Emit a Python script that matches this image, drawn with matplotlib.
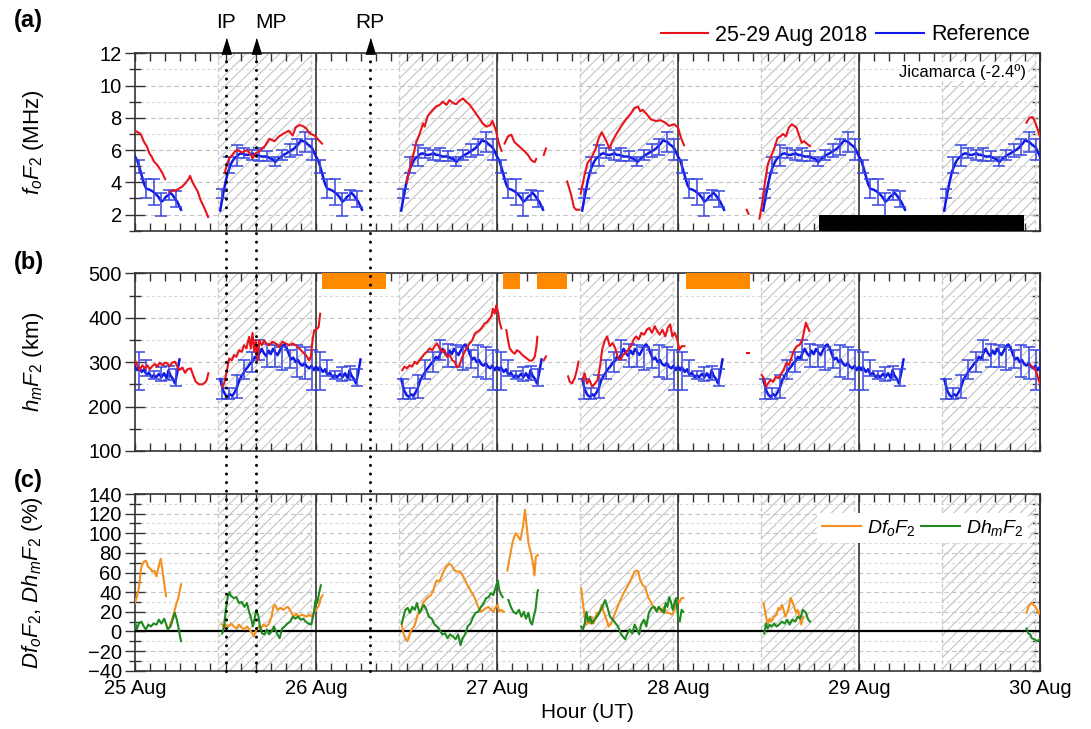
import numpy as np
import matplotlib
matplotlib.use('Agg')
import matplotlib.pyplot as plt
from matplotlib.lines import Line2D
from matplotlib.patches import Rectangle
from matplotlib.transforms import blended_transform_factory
from matplotlib.ticker import MultipleLocator, FixedLocator, FixedFormatter

plt.rcParams['font.family'] = ['Liberation Sans', 'DejaVu Sans']
plt.rcParams['mathtext.fontset'] = 'custom'
plt.rcParams['mathtext.rm'] = 'Liberation Sans'
plt.rcParams['mathtext.it'] = 'Liberation Sans:italic'
plt.rcParams['mathtext.bf'] = 'Liberation Sans:bold'
plt.rcParams['hatch.linewidth'] = 0.7

# ---------------- data ----------------
day_labels = ['25 Aug', '26 Aug', '27 Aug', '28 Aug', '29 Aug', '30 Aug']
event_names = ['IP', 'MP', 'RP']
event_hours = [12.0, 16.0, 31.1]          # hours since 25 Aug 00 UT
event_label_align = ['center', 'left', 'center']

# quiet-day reference (same profile every day), hours UT
ref_night_h = [0.0, 0.3, 0.6, 0.9, 1.2, 1.5, 1.9, 2.3, 2.7, 3.1, 3.5, 3.8, 4.1, 4.4, 4.7, 5.0, 5.3, 5.6, 5.9, 6.1]
ref_night_fof2 = [5.6, 5.35, 4.9, 4.4, 3.9, 3.6, 3.55, 3.45, 3.3, 3.1, 2.8, 2.9, 3.1, 3.2, 3.35, 3.2, 3.0, 2.8, 2.5, 2.3]
ref_night_hmf2_h = [0.0, 0.3, 0.5, 0.9, 1.2, 1.5, 1.85, 2.2, 2.5, 2.8, 3.2, 3.5, 3.85, 4.2, 4.45, 4.7, 5.0, 5.3, 5.6, 5.9]
ref_night_hmf2 = [290, 282, 289, 278, 284, 272, 276, 266, 271, 266, 274, 266, 275, 264, 282, 270, 263, 252, 276, 306]

ref_day_h = [11.3, 11.5, 11.7, 12.0, 12.3, 12.6, 12.9, 13.2, 13.5, 13.8, 14.1, 14.4, 14.7, 15.0, 15.3, 15.6, 15.9,
             16.2, 16.5, 16.8, 17.1, 17.5, 17.8, 18.2, 18.6, 19.0, 19.4, 19.7, 20.1, 20.4, 20.8, 21.1, 21.4, 21.7,
             22.0, 22.3, 22.6, 22.9, 23.2, 23.5, 23.8]
ref_day_fof2 = [2.25, 2.8, 3.3, 4.0, 4.6, 5.0, 5.3, 5.5, 5.6, 5.75, 5.8, 5.75, 5.7, 5.7, 5.75, 5.8, 5.7,
                5.7, 5.65, 5.6, 5.6, 5.6, 5.5, 5.45, 5.25, 5.45, 5.6, 5.7, 5.8, 5.9, 6.0, 6.1, 6.25, 6.4,
                6.6, 6.55, 6.5, 6.35, 6.25, 6.1, 5.8]
ref_day_hmf2_h = [11.3, 11.5, 11.7, 12.0, 12.3, 12.6, 12.9, 13.2, 13.5, 13.8, 14.1, 14.4, 14.7, 15.0, 15.3, 15.6,
                  15.9, 16.2, 16.5, 16.8, 17.1, 17.4, 17.7, 18.0, 18.3, 18.6, 18.9, 19.2, 19.5, 19.8, 20.1, 20.4,
                  20.7, 21.0, 21.3, 21.6, 21.9, 22.2, 22.5, 22.8, 23.1, 23.4, 23.7]
ref_day_hmf2 = [262, 248, 236, 226, 222, 228, 224, 232, 242, 258, 268, 276, 284, 290, 298, 302,
                312, 308, 320, 330, 320, 314, 326, 318, 330, 322, 316, 326, 336, 340, 332, 318,
                306, 310, 300, 305, 296, 292, 298, 290, 286, 292, 282]

eb_h = [0.5, 1.5, 2.5, 3.5, 4.5, 5.5, 11.5, 12.5, 13.5, 14.5, 15.5, 16.5, 17.5, 18.5, 19.5, 20.5, 21.5, 22.5, 23.5]
eb_fof2_lo = [4.6, 3.0, 2.6, 1.9, 2.9, 2.5, 3.0, 4.6, 5.0, 5.5, 5.4, 5.3, 5.3, 5.0, 5.4, 5.6, 5.7, 5.9, 5.4]
eb_fof2_hi = [5.4, 4.2, 4.2, 3.35, 3.55, 3.45, 3.6, 5.6, 6.3, 6.1, 6.0, 6.15, 5.95, 5.6, 6.0, 6.4, 6.7, 7.1, 6.7]
eb_hmf2_lo = [237, 268, 262, 258, 260, 246, 218, 216, 220, 262, 278, 305, 290, 290, 282, 286, 267, 263, 237]
eb_hmf2_hi = [323, 304, 280, 290, 292, 285, 262, 242, 272, 305, 323, 350, 340, 338, 334, 327, 338, 334, 327]

# 25-29 Aug 2018 foF2 (MHz); hours since 25 Aug 00 UT, one tuple per continuous piece
storm_fof2 = [
    ([0, 0.4, 0.75, 1.2, 1.6, 1.9, 2.2, 2.5, 2.9, 3.2, 3.6, 4.0],
     [7.2, 7.1, 7.0, 6.5, 6.2, 5.8, 5.6, 5.3, 5.1, 4.9, 4.6, 4.2]),
    ([4.6, 5.0, 5.4, 5.8, 6.3, 6.7, 7.1, 7.3, 7.5, 7.8, 8.3, 8.7, 9.2, 9.7],
     [3.4, 3.5, 3.5, 3.6, 3.75, 3.95, 4.2, 4.4, 4.15, 3.85, 3.45, 2.9, 2.4, 1.85]),
    ([11.9, 12.2, 12.5, 12.9, 13.3, 13.6, 14.2, 14.9, 15.3, 15.6, 16.0, 16.7, 17.3, 17.8, 18.5, 19.1, 19.8,
      20.4, 20.9, 21.3, 21.8, 22.2, 22.7, 23.1, 23.8, 24.4, 24.8],
     [4.6, 5.1, 5.5, 5.7, 5.95, 6.0, 5.85, 6.0, 5.75, 5.5, 5.8, 6.0, 6.3, 6.7, 6.55, 6.85, 7.05,
      7.2, 6.9, 7.4, 7.55, 7.5, 7.35, 7.05, 6.9, 6.6, 6.4]),
    ([36.0, 36.4, 36.85, 37.3, 37.7, 38.2, 38.4, 38.8, 39.3, 39.9, 40.4, 40.8, 41.3, 41.7, 42.2, 42.6, 43.0,
      43.5, 43.9, 44.4, 45.0, 45.6, 46.1, 46.6, 47.1, 47.4, 47.6, 47.9, 48.1, 48.4, 48.6],
     [4.0, 4.8, 5.6, 6.5, 6.95, 7.65, 7.45, 8.1, 8.4, 8.7, 8.8, 9.0, 8.8, 9.1, 8.9, 8.85, 9.05,
      9.2, 9.0, 8.8, 8.4, 8.0, 7.65, 7.45, 7.55, 7.8, 7.55, 7.15, 6.65, 6.2, 5.95]),
    ([49.0, 49.46, 49.9, 50.3, 51.0, 51.7, 52.1, 52.6, 53.0, 53.2],
     [6.4, 6.85, 6.95, 6.5, 6.2, 5.9, 5.7, 5.35, 5.25, 5.45]),
    ([54.2, 54.5], [5.7, 6.1]),
    ([57.3, 57.6, 57.9, 58.2, 58.5, 58.9], [4.05, 3.6, 3.1, 2.45, 2.3, 2.3]),
    ([59.1, 59.6, 60.0, 60.5, 61.1, 61.5, 61.9, 62.5, 62.9, 63.3, 63.9, 64.5, 65.1, 65.8, 66.2, 66.7, 67.0,
      67.3, 67.9, 68.4, 69.1, 69.7, 70.3, 70.8, 71.5, 72.0, 72.4, 72.8],
     [3.3, 4.45, 5.2, 5.5, 6.1, 6.75, 7.1, 6.55, 6.1, 6.55, 7.05, 7.5, 7.9, 8.3, 8.6, 8.7, 8.4,
      8.5, 8.2, 7.9, 7.8, 7.85, 7.7, 7.5, 7.6, 7.4, 6.75, 6.3]),
    ([81.1, 81.35], [2.3, 2.05]),
    ([82.8, 83.2, 83.5, 83.9, 84.3, 84.7, 85.2, 85.6, 85.9, 86.3, 86.7, 87.1, 87.4, 87.7, 88.0, 88.4, 88.7,
      89.2, 89.5],
     [1.75, 2.8, 3.9, 5.1, 5.6, 6.0, 6.75, 6.85, 7.0, 6.85, 7.4, 7.6, 7.5, 7.4, 7.0, 6.45, 6.55, 6.35, 6.25]),
    ([118.2, 118.6, 119.0, 119.3, 119.6, 120.0], [7.7, 8.0, 8.05, 7.8, 7.4, 6.85]),
]

# 25-29 Aug 2018 hmF2 (km)
storm_hmf2 = [
    ([0, 0.31, 0.62, 0.97, 1.33, 1.64, 1.95, 2.3, 2.65, 2.96, 3.27, 3.63, 3.98, 4.29, 4.6, 4.96, 5.31, 5.84,
      6.28, 6.64, 6.95, 7.39, 7.7, 8.05, 8.5, 8.94, 9.29, 9.51, 9.73],
     [304, 293, 282, 293, 286, 293, 284, 291, 296, 290, 299, 293, 299, 297, 291, 299, 301, 282,
      288, 276, 284, 286, 271, 256, 250, 250, 254, 260, 275]),
    ([11.59, 11.81, 12.12, 12.48, 12.83, 13.14, 13.45, 13.81, 14.16, 14.47, 14.78, 15.13, 15.35, 15.58, 15.8,
      16.02, 16.24, 16.46, 16.81, 17.12, 17.43, 17.79, 18.23, 18.67, 19.12, 19.56, 20.0, 20.44, 20.88, 21.33,
      21.77, 22.21, 22.65, 23.1, 23.32, 23.54, 23.76, 23.98, 24.34, 24.56],
     [245, 252, 275, 308, 304, 316, 312, 327, 323, 338, 331, 357, 331, 366, 323,
      349, 304, 349, 338, 349, 342, 338, 346, 342, 334, 346, 342, 338, 342, 338,
      331, 323, 316, 304, 312, 349, 372, 372, 379, 409]),
    ([35.43, 35.74, 36.05, 36.41, 36.76, 37.07, 37.38, 37.73, 38.09, 38.4, 38.71, 39.06, 39.42, 39.73, 40.04,
      40.39, 40.74, 41.05, 41.36, 41.72, 42.07, 42.38, 42.69, 43.04, 43.4, 43.71, 44.02, 44.37, 44.73, 45.04,
      45.35, 45.7, 46.05, 46.36, 46.67, 47.03, 47.25, 47.47, 47.69, 47.91, 48.13, 48.35, 48.58],
     [282, 290, 286, 293, 290, 301, 296, 304, 312, 319, 323, 331, 327, 336, 342,
      331, 323, 327, 312, 316, 304, 301, 288, 293, 312, 323, 334, 342, 349, 364,
      368, 372, 379, 387, 390, 398, 403, 420, 409, 428, 413, 390, 376]),
    ([49.24, 49.46, 49.68, 50.04, 50.35, 50.65, 51.01, 51.36, 51.67, 51.98, 52.34, 52.69, 53.0, 53.22, 53.35],
     [372, 349, 331, 323, 319, 327, 323, 316, 312, 308, 303, 304, 312, 334, 357]),
    ([54.2, 54.5], [304, 313]),
    ([57.43, 57.64, 57.95, 58.3, 58.6, 58.8], [268, 256, 252, 264, 283, 301]),
    ([59.33, 59.61, 59.94, 60.26, 60.63, 61.01, 61.33, 61.66, 61.94, 62.26, 62.59, 62.96, 63.33, 63.66, 63.98,
      64.36, 64.73, 65.05, 65.38, 65.75, 66.13, 66.45, 66.78, 67.15, 67.52, 67.85, 68.17, 68.55, 68.92, 69.24,
      69.57, 69.94, 70.31, 70.64, 70.97, 71.25, 71.57, 71.9, 72.18, 72.51, 72.84],
     [260, 275, 252, 260, 245, 252, 260, 290, 328, 347, 358, 336, 343, 332, 313,
      305, 317, 320, 328, 336, 351, 358, 351, 366, 362, 373, 377, 366, 381, 370,
      362, 373, 358, 377, 385, 358, 366, 351, 328, 336, 336]),
    ([81.1, 81.35], [320, 320]),
    ([83.09, 83.37, 83.69, 83.93, 84.3, 84.63, 84.95, 85.33, 85.7, 86.02, 86.35, 86.72, 87.1, 87.42, 87.75,
      88.12, 88.49, 88.72, 88.96, 89.14, 89.42],
     [271, 264, 245, 252, 260, 256, 267, 264, 275, 283, 298, 294, 313, 328, 336,
      339, 351, 370, 389, 381, 370]),
    ([118.7, 119.2, 119.5, 119.8, 120.0], [294, 286, 279, 260, 252]),
]

# deviations (%) : Df_oF_2 and Dh_mF_2
dfof2 = [
    ([0, 0.23, 0.51, 0.84, 1.17, 1.45, 1.73, 2.01, 2.29, 2.57, 2.85, 3.13, 3.41, 3.64, 3.87, 4.11],
     [29, 35, 44, 66, 71, 72, 66, 64, 61, 62, 56, 66, 74, 62, 49, 36]),
    ([4.57, 4.9, 5.27, 5.51, 5.74, 6.11], [5, 12, 22, 29, 34, 48]),
    ([11.57, 11.81, 12.04, 12.37, 12.74, 13.11, 13.44, 13.77, 14.14, 14.51, 14.84, 15.16, 15.54, 15.77, 16.0,
      16.38, 16.7, 17.03, 17.41, 17.78, 18.11, 18.34, 18.57, 18.9, 19.27, 19.65, 19.97, 20.3, 20.67, 21.05,
      21.37, 21.7, 22.07, 22.45, 22.77, 23.1, 23.38, 23.71, 24.03, 24.41, 24.64, 24.87],
     [7, 3, 7, 5, 8, 5, 3, 7, 4, 2, 5, 2, -2, -5, 0,
      5, 3, 7, 5, 8, 15, 25, 27, 22, 24, 22, 24, 25, 20, 15,
      18, 15, 17, 16, 15, 17, 15, 19, 22, 27, 34, 37]),
    ([35.37, 35.6, 35.84, 36.07, 36.3, 36.54, 36.77, 37.0, 37.24, 37.47, 37.84, 38.17, 38.5, 38.87, 39.24,
      39.57, 39.81, 40.04, 40.37, 40.65, 40.98, 41.3, 41.68, 42.0, 42.38, 42.7, 43.08, 43.45, 43.77, 44.1,
      44.47, 44.85, 45.17, 45.5, 45.87, 46.24, 46.57, 46.9, 47.18, 47.5, 47.83, 48.11, 48.3, 48.58, 48.9],
     [7, -2, -7, -10, -7, 0, 3, 5, 10, 17, 20, 29, 32, 35, 37,
      42, 49, 52, 51, 56, 62, 66, 69, 67, 62, 61, 61, 57, 52, 47,
      42, 37, 32, 25, 20, 22, 24, 25, 22, 20, 25, 27, 20, 22, 20]),
    ([49.37, 49.7, 50.07, 50.45, 50.77, 51.1, 51.47, 51.71, 51.94, 52.17, 52.5, 52.78, 52.96, 53.15, 53.43],
     [62, 76, 91, 100, 97, 93, 108, 124, 107, 90, 80, 69, 57, 76, 78]),
    ([59.16, 59.39, 59.63, 59.86, 60.09, 60.33, 60.56, 60.79, 61.03, 61.26, 61.59, 61.87, 62.19, 62.52, 62.8,
      63.13, 63.46, 63.83, 64.2, 64.53, 64.86, 65.23, 65.6, 65.93, 66.26, 66.54, 66.72, 67.0, 67.33, 67.66,
      68.03, 68.41, 68.73, 69.06, 69.43, 69.81, 70.13, 70.46, 70.83, 71.21, 71.53, 71.86, 72.14, 72.47, 72.7],
     [44, 29, 15, 7, 10, 8, 15, 8, 13, 19, 20, 27, 19, 12, 5,
      8, 15, 22, 29, 35, 40, 45, 50, 56, 61, 62, 61, 52, 47, 45,
      35, 30, 25, 22, 24, 20, 25, 19, 19, 17, 22, 32, 29, 34, 34]),
    ([83.34, 83.67, 83.9, 84.14, 84.37, 84.75, 85.07, 85.31, 85.54, 85.77, 86.01, 86.24, 86.47, 86.71, 86.94,
      87.17, 87.41, 87.64, 87.87, 88.11, 88.34, 88.57],
     [29, 15, 8, 13, 10, 15, 17, 24, 22, 27, 22, 15, 19, 25, 34, 30, 25, 19, 22, 15, 7, 15]),
    ([118.22, 118.45, 118.83, 119.15, 119.48, 119.86, 120.09], [19, 25, 29, 27, 24, 18, 22]),
]
dhmf2 = [
    ([0, 0.23, 0.51, 0.84, 1.17, 1.45, 1.77, 2.1, 2.47, 2.85, 3.17, 3.5, 3.87, 4.11, 4.34, 4.71, 5.04, 5.27,
      5.51, 5.74, 5.97, 6.11],
     [10, 2, 8, 10, 5, 2, 7, 5, 8, 7, 12, 8, 13, 8, 2, 5, 13, 19, 13, 5, -5, -10]),
    ([11.57, 11.81, 12.04, 12.27, 12.51, 12.74, 13.11, 13.44, 13.77, 14.14, 14.51, 14.84, 15.16, 15.44, 15.63,
      15.91, 16.1, 16.38, 16.57, 16.85, 17.17, 17.5, 17.78, 18.11, 18.43, 18.81, 19.18, 19.51, 19.83, 20.21,
      20.58, 20.91, 21.23, 21.61, 21.98, 22.31, 22.63, 23.01, 23.38, 23.71, 23.94, 24.17, 24.41, 24.64],
     [-2, 5, 22, 34, 40, 36, 34, 35, 29, 30, 25, 29, 19, 12, 5,
      15, 22, 15, 5, -2, -3, 2, -3, 0, 5, -2, -7, 3, 5, 8,
      10, 15, 13, 15, 12, 13, 10, 8, 7, 19, 32, 29, 39, 47]),
    ([35.37, 35.6, 35.84, 36.16, 36.45, 36.77, 37.1, 37.38, 37.71, 37.94, 38.31, 38.64, 38.97, 39.35, 39.72,
      40.04, 40.37, 40.74, 41.12, 41.44, 41.77, 42.14, 42.52, 42.84, 43.17, 43.45, 43.77, 44.1, 44.47, 44.85,
      45.17, 45.5, 45.87, 46.24, 46.57, 46.9, 47.18, 47.5, 47.83, 48.11, 48.3, 48.58, 48.76],
     [8, 15, 22, 24, 19, 25, 22, 29, 19, 22, 27, 22, 15, 13, 7,
      5, 2, -3, -2, -7, -3, -5, -8, -3, -14, -7, -3, 5, 8, 15,
      19, 20, 25, 29, 34, 35, 39, 37, 45, 52, 42, 37, 35]),
    ([49.51, 49.84, 50.16, 50.54, 50.91, 51.24, 51.56, 51.84, 52.17, 52.4, 52.64, 52.87, 53.1, 53.34, 53.43],
     [32, 25, 20, 18, 22, 15, 20, 13, 19, 10, 7, 15, 22, 39, 42]),
    ([59.16, 59.39, 59.63, 59.86, 60.09, 60.33, 60.56, 60.93, 61.26, 61.59, 61.96, 62.34, 62.66, 62.99, 63.36,
      63.74, 64.06, 64.39, 64.67, 64.99, 65.23, 65.6, 65.93, 66.26, 66.54, 66.86, 67.1, 67.47, 67.8, 68.13,
      68.5, 68.87, 69.2, 69.43, 69.81, 70.13, 70.37, 70.6, 70.83, 71.07, 71.3, 71.53, 71.77, 72.0, 72.23,
      72.47, 72.7],
     [5, 2, 8, 20, 10, 15, 8, 12, 15, 19, 25, 32, 24, 15, 12,
      8, 5, -2, -5, -8, -3, 2, -2, 7, 2, -3, 7, 12, 5, 19,
      24, 25, 20, 25, 22, 19, 29, 25, 35, 30, 22, 29, 34, 15, 10,
      22, 20]),
    ([83.44, 83.67, 83.9, 84.14, 84.37, 84.75, 85.07, 85.4, 85.77, 86.15, 86.47, 86.8, 87.17, 87.55, 87.87,
      88.2, 88.57, 88.95, 89.27, 89.51],
     [-2, 8, 3, 7, 5, 8, 5, 7, 10, 8, 12, 7, 12, 10, 15, 13, 22, 19, 12, 10]),
    ([118.22, 118.45, 118.69, 118.92, 119.29, 119.62, 119.95], [3, -2, -3, -7, -8, -10, -8]),
]

# orange markers on top of panel (b) [start h, end h], black bar in panel (a)
orange_bars = [(24.75, 33.3), (48.8, 51.1), (53.3, 57.25), (73.0, 81.5)]
black_bar = (90.7, 117.9)
daylight_h = (11.0, 23.3)

# ---------------- styling ----------------
RED = '#e8141c'
BLUE = '#1018e6'
EBLUE = '#3846e0'
ORANGE = '#f39020'
GREEN = '#1f8a1f'
HATCH = '#bdbdbd'
n_days = 5

fig = plt.figure(figsize=(10.91, 7.29), dpi=100)
FW, FH = 1091.0, 729.0
L, R = 135.0, 1040.0
def fy(px):
    return 1 - px / FH
boxes = {'a': (53.3, 230.7), 'b': (273.3, 451.0), 'c': (494.0, 670.7)}
axes = {}
for k, (t, b) in boxes.items():
    axes[k] = fig.add_axes([L / FW, fy(b), (R - L) / FW, (b - t) / FH])
ax_a, ax_b, ax_c = axes['a'], axes['b'], axes['c']


def style(ax, ylim, major, minor, xlabels=False):
    ax.set_xlim(0, n_days)
    ax.set_ylim(*ylim)
    ax.xaxis.set_major_locator(FixedLocator(range(n_days + 1)))
    ax.xaxis.set_major_formatter(FixedFormatter(day_labels))
    ax.xaxis.set_minor_locator(MultipleLocator(2 / 24))
    ax.yaxis.set_major_locator(MultipleLocator(major))
    ax.yaxis.set_minor_locator(MultipleLocator(minor))
    ax.tick_params(axis='x', which='both', direction='in', top=True, bottom=True,
                   length=6, width=1, color='#333333', labelsize=14.5, pad=6,
                   labelbottom=xlabels)
    ax.tick_params(axis='y', which='major', direction='inout', left=True, right=False,
                   length=15, width=1, color='#333333', labelsize=14.5, pad=2)
    ax.tick_params(axis='y', which='minor', direction='inout', left=True, right=False,
                   length=9, width=1, color='#333333')
    sec = ax.secondary_yaxis('right')
    sec.yaxis.set_major_locator(MultipleLocator(major))
    sec.yaxis.set_minor_locator(MultipleLocator(minor))
    sec.tick_params(which='both', direction='in', length=6, width=1, color='#333333',
                    labelright=False)
    sec.spines['right'].set_linewidth(1.2)
    sec.spines['right'].set_color('#333333')
    for s in ax.spines.values():
        s.set_linewidth(1.2)
        s.set_color('#333333')
    ax.set_axisbelow(True)
    ax.yaxis.grid(True, which='major', linestyle=(0, (4, 3)), color='#c4c4c4', lw=0.8)
    ax.yaxis.grid(True, which='minor', linestyle=(0, (2.5, 2.5)), color='#d6d6d6', lw=0.8)
    for d in range(n_days):
        x0, x1 = d + daylight_h[0] / 24, d + daylight_h[1] / 24
        ax.axvspan(x0, x1, facecolor='none', edgecolor=HATCH, hatch='///', lw=0, zorder=0.5)
        for xx in (x0, x1):
            ax.axvline(xx, color='#cccccc', lw=1.0, ls=(0, (3, 2)), zorder=0.6)
    for d in range(1, n_days):
        ax.axvline(d, color='#333333', lw=1.2, zorder=2)


style(ax_a, (1, 12), 2, 1)
style(ax_b, (100, 500), 100, 50)
style(ax_c, (-40, 140), 20, 10, xlabels=True)


def plot_reference(ax, nh, nv, dh, dv, lo, hi):
    nh, nv, dh, dv = map(np.asarray, (nh, nv, dh, dv))
    ax.plot(nh / 24, nv, color=BLUE, lw=1.8, zorder=4)
    for d in range(n_days):
        x = np.concatenate([d + dh / 24, d + 1 + nh / 24])
        y = np.concatenate([dv, nv])
        ax.plot(x, y, color=BLUE, lw=1.8, zorder=4)
    lo, hi = np.asarray(lo), np.asarray(hi)
    mid = (lo + hi) / 2
    for d in range(n_days):
        ax.errorbar(d + np.asarray(eb_h) / 24, mid, yerr=[mid - lo, hi - mid], fmt='none',
                    ecolor=EBLUE, elinewidth=1.1, capsize=4, capthick=1.1, zorder=4)


def plot_segments(ax, segs, color, lw=1.5, z=5):
    for h, v in segs:
        ax.plot(np.asarray(h) / 24, v, color=color, lw=lw, zorder=z)


plot_segments(ax_a, storm_fof2, RED)
plot_reference(ax_a, ref_night_h, ref_night_fof2, ref_day_h, ref_day_fof2, eb_fof2_lo, eb_fof2_hi)
plot_segments(ax_b, storm_hmf2, RED)
plot_reference(ax_b, ref_night_hmf2_h, ref_night_hmf2, ref_day_hmf2_h, ref_day_hmf2, eb_hmf2_lo, eb_hmf2_hi)

ax_a.add_patch(Rectangle((black_bar[0] / 24, 1), (black_bar[1] - black_bar[0]) / 24, 0.95,
                         facecolor='black', edgecolor='none', zorder=6))
for h0, h1 in orange_bars:
    ax_b.add_patch(Rectangle((h0 / 24, 465), (h1 - h0) / 24, 35, facecolor='#ff8a00',
                             edgecolor='none', zorder=6))

ax_c.axhline(0, color='black', lw=1.6, zorder=3)
plot_segments(ax_c, dfof2, ORANGE)
plot_segments(ax_c, dhmf2, GREEN)

# event dotted lines, triangles and labels
bt = blended_transform_factory(ax_a.transData, fig.transFigure)
tri = [(-0.62, -1), (0.62, -1), (0, 1)]
for name, h, ha in zip(event_names, event_hours, event_label_align):
    x = h / 24
    fig.add_artist(Line2D([x, x], [fy(670.7), fy(58)], transform=bt, color='black', lw=2.2,
                          ls=(0, (0.01, 2.8)), dash_capstyle='round', zorder=8))
    fig.add_artist(Line2D([x], [fy(45.5)], transform=bt, marker=tri, markersize=11,
                          color='black', lw=0))
    fig.text(x, fy(22), name, transform=bt, ha=ha, va='center', fontsize=15)

# labels
ax_a.text(0.985, 0.896, 'Jicamarca (-2.4º)', transform=ax_a.transAxes, ha='right', va='center',
          fontsize=12, bbox=dict(facecolor='white', edgecolor='none', pad=1), zorder=7)
for k, ypx in zip(['a', 'b', 'c'], [20, 262, 480]):
    fig.text(14 / FW, fy(ypx), f'({k})', ha='left', va='center', fontsize=17, fontweight='bold')

ylabels = {'a': r'$f_oF_2$ (MHz)', 'b': r'$h_mF_2$ (km)', 'c': r'$Df_oF_2$, $Dh_mF_2$ (%)'}
for k, lab in ylabels.items():
    t, b = boxes[k]
    fig.text(33 / FW, fy((t + b) / 2), lab, rotation=90, ha='center', va='center', fontsize=16)

fig.text(587 / FW, fy(712), 'Hour (UT)', ha='center', va='center', fontsize=15)

fig.legend(handles=[Line2D([], [], color=RED, lw=1.5), Line2D([], [], color=BLUE, lw=1.5)],
           labels=['25-29 Aug 2018', 'Reference'], loc='center right',
           bbox_to_anchor=(1030 / FW, fy(35)), ncol=2, frameon=False, fontsize=15.5,
           handlelength=2.2, handletextpad=0.35, columnspacing=0.4, borderpad=0, borderaxespad=0)

leg = ax_c.legend(handles=[Line2D([], [], color=ORANGE, lw=1.5), Line2D([], [], color=GREEN, lw=1.5)],
                  labels=[r'$Df_oF_2$', r'$Dh_mF_2$'], loc='upper right',
                  bbox_to_anchor=(0.9867, 0.8925), ncol=2, fontsize=14, frameon=True,
                  facecolor='white', edgecolor='none', framealpha=1, fancybox=False,
                  handlelength=2.0, handletextpad=0.3, columnspacing=0.3, borderpad=0.25,
                  borderaxespad=0)
leg.set_zorder(9)

fig.savefig('out.png', dpi=100)
